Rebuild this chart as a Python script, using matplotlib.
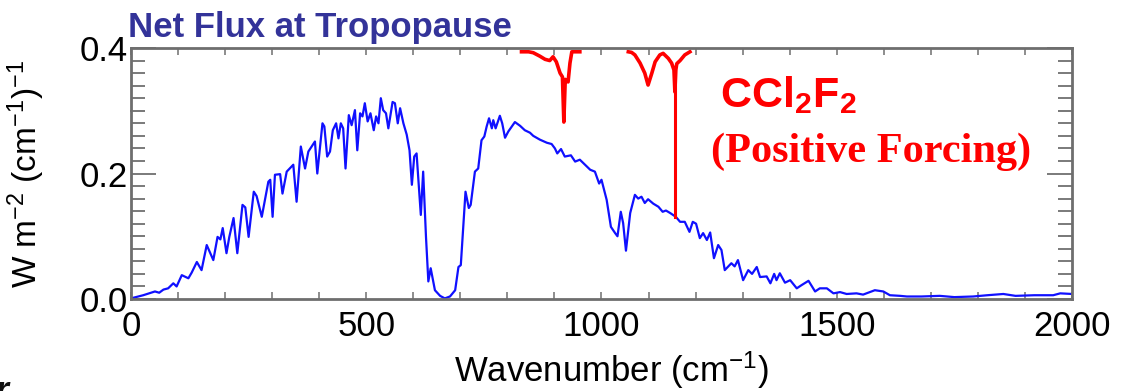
import matplotlib
matplotlib.use("Agg")
import matplotlib.pyplot as plt
from matplotlib.ticker import MultipleLocator, FixedLocator
import numpy as np

plt.rcParams['font.family'] = ['Liberation Sans', 'DejaVu Sans']
plt.rcParams['mathtext.fontset'] = 'custom'
plt.rcParams['mathtext.rm'] = 'Liberation Sans'
plt.rcParams['mathtext.it'] = 'Liberation Sans:italic'
plt.rcParams['mathtext.bf'] = 'Liberation Sans:bold'

# net flux at tropopause
wavenumber = [0, 26, 51, 60, 69, 79, 90, 97, 108, 122, 129, 140, 150, 161, 175, 184, 190, 195,
              203, 209, 218, 226, 237, 243, 250, 261, 267, 278, 292, 296, 301, 306, 317, 322,
              331, 345, 352, 361, 370, 377, 391, 396, 407, 411, 417, 423, 429, 436, 441, 446,
              451, 456, 463, 469, 476, 481, 487, 492, 497, 503, 509, 516, 521, 526, 531, 536,
              542, 547, 556, 561, 567, 572, 579, 586, 592, 597, 602, 607, 616, 621, 627, 632,
              637, 646, 657, 667, 678, 689, 696, 701, 711, 718, 722, 731, 738, 745, 751, 756,
              761, 767, 770, 775, 784, 789, 795, 802, 816, 827, 837, 848, 855, 869, 884, 894,
              901, 906, 914, 922, 935, 944, 954, 965, 976, 986, 995, 1000, 1011, 1020, 1029,
              1034, 1041, 1046, 1052, 1061, 1071, 1078, 1085, 1092, 1099, 1110, 1121, 1130,
              1137, 1146, 1158, 1167, 1177, 1187, 1194, 1201, 1209, 1216, 1224, 1231, 1239,
              1248, 1255, 1262, 1276, 1283, 1290, 1301, 1312, 1320, 1330, 1337, 1351, 1359,
              1367, 1372, 1379, 1390, 1401, 1415, 1425, 1440, 1454, 1464, 1479, 1493, 1507,
              1521, 1542, 1556, 1581, 1599, 1613, 1635, 1649, 1680, 1719, 1750, 1790, 1820,
              1854, 1880, 1920, 1960, 1975, 2000]
net_flux = [0.001, 0.006, 0.012, 0.010, 0.015, 0.017, 0.025, 0.020, 0.038, 0.033, 0.042, 0.059,
            0.046, 0.086, 0.062, 0.099, 0.095, 0.113, 0.073, 0.099, 0.129, 0.073, 0.150, 0.146,
            0.099, 0.171, 0.164, 0.131, 0.187, 0.190, 0.131, 0.198, 0.199, 0.168, 0.203, 0.214,
            0.155, 0.243, 0.208, 0.235, 0.251, 0.200, 0.280, 0.275, 0.227, 0.235, 0.269, 0.280,
            0.256, 0.280, 0.272, 0.208, 0.293, 0.277, 0.301, 0.237, 0.296, 0.291, 0.312, 0.283,
            0.296, 0.269, 0.291, 0.280, 0.320, 0.301, 0.296, 0.272, 0.314, 0.312, 0.280, 0.304,
            0.280, 0.262, 0.237, 0.182, 0.227, 0.232, 0.134, 0.203, 0.099, 0.028, 0.049, 0.014,
            0.005, 0.001, 0.004, 0.014, 0.051, 0.054, 0.171, 0.145, 0.150, 0.203, 0.208, 0.253,
            0.259, 0.275, 0.288, 0.272, 0.285, 0.272, 0.292, 0.280, 0.257, 0.267, 0.282, 0.276,
            0.269, 0.265, 0.260, 0.254, 0.249, 0.247, 0.240, 0.232, 0.239, 0.227, 0.229, 0.219,
            0.222, 0.214, 0.206, 0.203, 0.184, 0.190, 0.158, 0.115, 0.105, 0.100, 0.139, 0.121,
            0.077, 0.137, 0.166, 0.160, 0.163, 0.153, 0.159, 0.152, 0.147, 0.139, 0.141, 0.137,
            0.131, 0.123, 0.123, 0.107, 0.123, 0.120, 0.097, 0.105, 0.094, 0.106, 0.065, 0.086,
            0.078, 0.046, 0.057, 0.052, 0.062, 0.030, 0.046, 0.040, 0.051, 0.035, 0.036, 0.025,
            0.040, 0.030, 0.041, 0.026, 0.030, 0.017, 0.022, 0.029, 0.012, 0.017, 0.017, 0.009,
            0.011, 0.008, 0.009, 0.007, 0.014, 0.012, 0.006, 0.005, 0.004, 0.004, 0.005, 0.003,
            0.004, 0.006, 0.008, 0.005, 0.006, 0.006, 0.009, 0.008]

# CCl2F2 absorption bands hanging from the top of the plot
band1_wn = [830, 845, 855, 869, 880, 890, 897, 904, 912, 917, 920, 923, 929, 933, 937, 954]
band1_val = [0.394, 0.394, 0.3925, 0.387, 0.382, 0.380, 0.386, 0.378, 0.360, 0.354, 0.282,
             0.350, 0.346, 0.376, 0.394, 0.394]
band2_wn = [1057, 1064, 1071, 1082, 1092, 1099, 1107, 1114, 1124, 1131, 1142, 1149, 1154,
            1156, 1158, 1160, 1167, 1177, 1188]
band2_val = [0.394, 0.393, 0.389, 0.376, 0.360, 0.341, 0.360, 0.378, 0.389, 0.3915, 0.3835,
             0.376, 0.365, 0.330, 0.365, 0.375, 0.380, 0.389, 0.394]
marker_wn = 1157
marker_top = 0.37
marker_bottom = 0.131

fig = plt.figure(figsize=(11.32, 3.91), dpi=100)
ax = fig.add_axes([0.1157, 0.2353, 0.8313, 0.6419])

ax.plot(wavenumber, net_flux, color='#1010ff', linewidth=1.6)
ax.plot(band1_wn, band1_val, color='#ff0000', linewidth=2.6)
ax.plot(band2_wn, band2_val, color='#ff0000', linewidth=2.6)
ax.plot([marker_wn, marker_wn], [marker_top, marker_bottom], color='#ff0000', linewidth=2.2)

ax.set_xlim(0, 2000)
ax.set_ylim(0, 0.4)

ax.xaxis.set_major_locator(MultipleLocator(500))
ax.xaxis.set_minor_locator(MultipleLocator(100))
ax.yaxis.set_major_locator(FixedLocator([0.0, 0.2, 0.4]))
ax.yaxis.set_minor_locator(MultipleLocator(0.02))
ax.set_yticklabels(['0.0', '0.2', '0.4'])

tick_grey = '#7a7a7a'
ax.tick_params(axis='x', which='both', direction='in', top=True, length=5, width=1.2,
               color=tick_grey, labelsize=25, pad=8)
ax.tick_params(axis='y', which='major', direction='in', right=True, length=18, width=1.4,
               color=tick_grey, labelsize=25, pad=2)
ax.tick_params(axis='y', which='minor', direction='in', right=True, length=10, width=1.4,
               color=tick_grey)
# the longer ticks at 0.1 and 0.3 without labels
for yv in [0.1, 0.3]:
    ax.plot([0, 0.0135], [yv, yv], transform=ax.get_yaxis_transform(), color=tick_grey,
            linewidth=1.4, clip_on=False)
    ax.plot([1 - 0.0135, 1], [yv, yv], transform=ax.get_yaxis_transform(), color=tick_grey,
            linewidth=1.4, clip_on=False)

for sp in ax.spines.values():
    sp.set_color('#6e6e6e')
    sp.set_linewidth(2)

ax.set_xlabel('Wavenumber (cm$^{-1}$)', fontsize=25)
ax.xaxis.set_label_coords(0.51, -0.2)
ax.set_ylabel('W m$^{-2}$ (cm$^{-1}$)$^{-1}$', fontsize=24)
ax.yaxis.set_label_coords(-0.089, 0.5)

fig.text(0.1131, 0.9054, 'Net Flux at Tropopause', fontsize=25, fontweight='bold',
         color='#333399', va='baseline', ha='left')
fig.text(0.636, 0.7263, r'CCl$_\mathbf{2}$F$_\mathbf{2}$', fontsize=31, fontweight='bold',
         color='#ff0000', va='baseline', ha='left')
fig.text(0.628, 0.5857, '(Positive Forcing)', fontsize=30.5, fontweight='bold',
         family=['Liberation Serif', 'DejaVu Serif'], color='#ff0000', va='baseline', ha='left')
# cropped letter at the lower left corner
fig.text(-0.004, -0.022, 'r', fontsize=24, fontweight='bold', fontstyle='italic',
         color='#111111', va='baseline', ha='left')

fig.savefig('out.png', dpi=100)
